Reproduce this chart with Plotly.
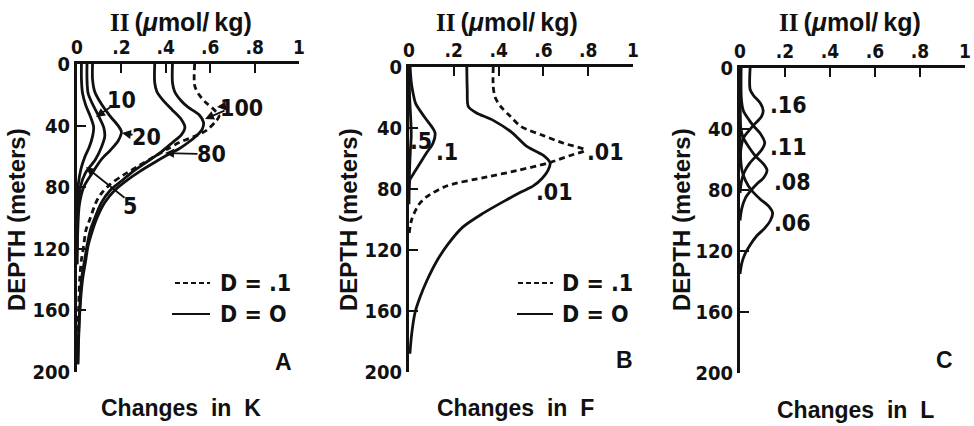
import plotly.graph_objects as go

W, H = 974, 426

# ---------------- data ----------------
# Panel A: changes in K   (depth in m, Pi in umol/kg)
K5_depth = [0, 10, 19, 27, 34, 41, 47, 54, 60, 68, 78, 90, 110, 130]
K5_val = [0.02, 0.02, 0.025, 0.04, 0.06, 0.075, 0.07, 0.055, 0.036, 0.018, 0.006, 0.002, 0.0, 0.0]
K10_depth = [0, 10, 19, 26, 34, 41, 47, 54, 62, 71, 80, 95, 120]
K10_val = [0.045, 0.045, 0.05, 0.07, 0.098, 0.12, 0.125, 0.11, 0.083, 0.037, 0.015, 0.004, 0.0]
K20_depth = [0, 10, 18, 26, 34, 40, 44, 50, 56, 62, 71, 80, 92, 110, 130]
K20_val = [0.07, 0.07, 0.08, 0.11, 0.15, 0.185, 0.2, 0.185, 0.15, 0.11, 0.068, 0.03, 0.01, 0.003, 0.0]
K80_depth = [0, 12, 18, 24, 30, 36, 41, 46, 51, 57, 63, 70, 76, 82, 90, 100, 108, 118, 127, 140, 160, 180, 195]
K80_val = [0.35, 0.35, 0.36, 0.39, 0.43, 0.47, 0.486, 0.47, 0.43, 0.38, 0.32, 0.25, 0.20, 0.15, 0.11, 0.08,
           0.06, 0.045, 0.035, 0.02, 0.012, 0.006, 0.004]
K100_depth = [0, 12, 18, 24, 28, 33, 38, 42, 45, 50, 55, 58, 63, 70, 76, 82, 90, 100, 108, 118, 127, 140, 160,
              180, 195]
K100_val = [0.43, 0.43, 0.44, 0.47, 0.50, 0.55, 0.57, 0.565, 0.55, 0.51, 0.46, 0.42, 0.36, 0.28, 0.22, 0.17,
            0.125, 0.09, 0.07, 0.05, 0.04, 0.025, 0.013, 0.007, 0.004]
K100D_depth = [0, 14, 20, 25, 30, 34, 38, 43, 47, 51, 55, 60, 66, 72, 78, 84, 90, 100, 108, 118, 127, 140, 160,
               180]
K100D_val = [0.53, 0.53, 0.55, 0.58, 0.62, 0.64, 0.62, 0.585, 0.53, 0.46, 0.41, 0.35, 0.28, 0.21, 0.15, 0.11,
             0.085, 0.06, 0.04, 0.03, 0.02, 0.012, 0.007, 0.004]

# Panel B: changes in F
F05_depth = [0, 20, 35, 45, 55, 70, 90]
F05_val = [0.0, 0.003, 0.008, 0.01, 0.006, 0.002, 0.0]
F1_depth = [0, 10, 17, 24, 33, 43, 50, 57, 63, 70, 74, 80]
F1_val = [0.005, 0.01, 0.018, 0.03, 0.07, 0.116, 0.107, 0.075, 0.05, 0.02, 0.004, 0.0]
F01_depth = [0, 15, 26, 30, 35, 43, 52, 58, 63, 68, 73, 78, 82, 87, 96, 105, 116, 127, 140, 151, 161, 175, 188]
F01_val = [0.258, 0.26, 0.265, 0.3, 0.376, 0.46, 0.526, 0.6, 0.63, 0.62, 0.595, 0.555, 0.5, 0.437, 0.33, 0.24,
           0.175, 0.125, 0.08, 0.049, 0.027, 0.012, 0.004]
F01D_depth = [0, 13, 20, 26, 32, 39, 45, 50, 54.5, 58, 63, 68, 72, 78, 85, 90, 100, 110]
F01D_val = [0.376, 0.376, 0.385, 0.41, 0.45, 0.5, 0.6, 0.69, 0.786, 0.72, 0.62, 0.48, 0.35, 0.168, 0.08, 0.045,
            0.012, 0.0]

# Panel C: changes in L
L16_depth = [0, 14, 18, 23, 28, 32, 36, 41, 46, 52, 60]
L16_val = [0.045, 0.045, 0.06, 0.09, 0.103, 0.095, 0.07, 0.04, 0.015, 0.005, 0.0]
L11_depth = [0, 20, 28, 34, 38, 43, 49, 54, 58, 63, 68, 74, 82]
L11_val = [0.005, 0.006, 0.015, 0.04, 0.06, 0.09, 0.11, 0.095, 0.07, 0.04, 0.02, 0.007, 0.0]
L08_depth = [0, 40, 46, 52, 58, 63, 67, 72, 76, 80, 85, 92, 100]
L08_val = [0.0, 0.004, 0.015, 0.04, 0.07, 0.105, 0.12, 0.105, 0.075, 0.05, 0.025, 0.008, 0.0]
L06_depth = [0, 60, 68, 74, 80, 86, 91, 95, 100, 105, 110, 116, 122, 128, 135]
L06_val = [0.0, 0.003, 0.01, 0.025, 0.05, 0.09, 0.13, 0.145, 0.135, 0.11, 0.075, 0.045, 0.022, 0.008, 0.0]

x_tickvals = [0, 0.2, 0.4, 0.6, 0.8, 1]
x_ticktext = ["0", ".2", ".4", ".6", ".8", "1"]
y_tickvals = [0, 40, 80, 120, 160, 200]
y_ticktext = ["0", "40", "80", "120", "160", "200"]

# ---------------- styling ----------------
NARROW = "Liberation Sans Narrow, DejaVu Sans Condensed, Arial Narrow, sans-serif"
SANS = "Liberation Sans, Arial, Helvetica, sans-serif"
INK = "#111111"
LW = 2.8
DASH = "6px,4px"


def X(px):
    return px / W


def Y(py):
    return 1 - py / H


fig = go.Figure()


def add_curve(xs, ys, ax, dashed=False):
    fig.add_trace(go.Scatter(
        x=xs, y=ys, mode="lines", xaxis="x" + ax, yaxis="y" + ax,
        line=dict(color=INK, width=LW, dash=DASH if dashed else "solid", shape="spline", smoothing=0.8),
        hoverinfo="skip", showlegend=False))


# Panel A
add_curve(K5_val, K5_depth, "")
add_curve(K10_val, K10_depth, "")
add_curve(K20_val, K20_depth, "")
add_curve(K80_val, K80_depth, "")
add_curve(K100_val, K100_depth, "")
add_curve(K100D_val, K100D_depth, "", dashed=True)
# Panel B
add_curve(F05_val, F05_depth, "2")
add_curve(F1_val, F1_depth, "2")
add_curve(F01_val, F01_depth, "2")
add_curve(F01D_val, F01D_depth, "2", dashed=True)
# Panel C
add_curve(L16_val, L16_depth, "3")
add_curve(L11_val, L11_depth, "3")
add_curve(L08_val, L08_depth, "3")
add_curve(L06_val, L06_depth, "3")

# panel frames in pixels: (left, right, top, bottom)
frames = {
    "": (77, 299, 64, 372),
    "2": (409, 633, 67, 372),
    "3": (740, 965, 68, 373),
}

layout = dict(
    width=W, height=H, margin=dict(l=0, r=0, t=0, b=0, autoexpand=False),
    paper_bgcolor="white", plot_bgcolor="white", showlegend=False,
)
for k, (l, r, t, b) in frames.items():
    layout["xaxis" + k] = dict(
        domain=[X(l), X(r)], range=[0, 1], side="top", anchor="y" + k, automargin=False,
        showgrid=False, zeroline=False, showline=True, linecolor=INK, linewidth=2.8,
        ticks="inside", ticklen=9, tickwidth=2.2, tickcolor=INK,
        tickvals=x_tickvals, ticktext=x_ticktext,
        tickfont=dict(family=NARROW, size=19, color=INK, weight="bold"),
    )
    layout["yaxis" + k] = dict(
        domain=[Y(b), Y(t)], range=[200, 0], anchor="x" + k, automargin=False,
        showgrid=False, zeroline=False, showline=True, linecolor=INK, linewidth=2.8,
        ticks="inside", ticklen=9, tickwidth=2.2, tickcolor=INK,
        tickvals=y_tickvals, ticktext=y_ticktext,
        tickfont=dict(family=NARROW, size=20, color=INK, weight="bold"),
    )
fig.update_layout(**layout)

ann = []


def text(px, py, s, size=23, family=NARROW, xanchor="center", angle=0):
    ann.append(dict(x=X(px), y=Y(py), xref="paper", yref="paper", text=s, showarrow=False,
                    xanchor=xanchor, yanchor="middle", textangle=angle,
                    font=dict(family=family, size=size, color=INK, weight="bold")))


def arrow(tx, ty, hx, hy):
    ann.append(dict(x=X(hx), y=Y(hy), xref="paper", yref="paper", ax=tx - hx, ay=ty - hy,
                    text="", showarrow=True, arrowhead=2, arrowsize=1, arrowwidth=1.8,
                    arrowcolor=INK))


title_top = '<span style="font-family:Liberation Serif, Times New Roman, serif">II</span>\u2009(<i>\u03bc</i>mol/\u2009kg)'
for cx in (181, 507, 850):
    text(cx, 22, title_top, size=25, family=SANS)

nb = "\u00a0"
text(181, 408, "Changes" + nb * 2 + "in" + nb * 2 + "K", size=23, family=SANS)
text(515, 408, "Changes" + nb * 2 + "in" + nb * 2 + "F", size=23, family=SANS)
text(855, 410, "Changes" + nb * 2 + "in" + nb * 2 + "L", size=23, family=SANS)

for cx in (16, 348, 681):
    text(cx, 220, "DEPTH (meters)", size=24, family=SANS, angle=-90)

text(283, 362, "A", family=SANS)
text(624, 360, "B", family=SANS)
text(944, 360, "C", family=SANS)

# curve labels, panel A
text(121, 100, "10")
text(146, 137, "20")
text(241, 108, "100")
text(211, 154, "80")
text(130, 206, "5")
arrow(112, 106, 96, 117)
arrow(134, 135, 122, 133)
arrow(226, 110, 205, 119)
arrow(226, 106, 217, 107)
arrow(199, 154, 165, 153)
arrow(126, 199, 86, 167)

# curve labels, panel B
text(421, 141, ".5")
text(447, 152, ".1")
text(605, 152, ".01")
text(554, 192, ".01")

# curve labels, panel C
text(788, 105, ".16")
text(788, 147, ".11")
text(792, 182, ".08")
text(792, 223, ".06")

# legends in A and B
shapes = []
for (x0, x1, tx) in ((175, 210, 218), (518, 553, 560)):
    shapes.append(dict(type="line", xref="paper", yref="paper", x0=X(x0), x1=X(x1), y0=Y(283), y1=Y(283),
                       line=dict(color=INK, width=2.2, dash="5px,3px")))
    text(tx, 283, "D = .1", xanchor="left")
for (x0, x1, tx) in ((172, 210, 218), (517, 553, 560)):
    shapes.append(dict(type="line", xref="paper", yref="paper", x0=X(x0), x1=X(x1), y0=Y(314), y1=Y(314),
                       line=dict(color=INK, width=2.2)))
    text(tx, 314, "D = O", xanchor="left")

fig.update_layout(annotations=ann, shapes=shapes)
fig.write_html("out.html")
